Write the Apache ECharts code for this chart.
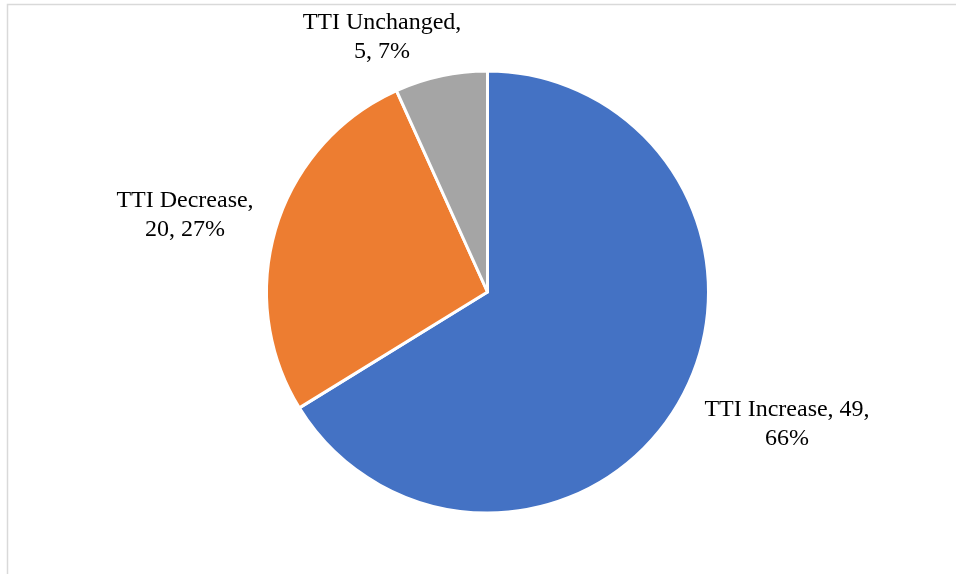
<!DOCTYPE html>
<html>
<head>
<meta charset="utf-8">
<script src="https://cdn.jsdelivr.net/npm/echarts@6/dist/echarts.min.js"></script>
<style>
  html, body { margin: 0; padding: 0; background: #ffffff; }
  #chart { width: 956px; height: 574px; }
</style>
</head>
<body>
<div id="chart"></div>
<script>
// Outcome categories and their counts
const categories = ['TTI Increase', 'TTI Decrease', 'TTI Unchanged'];
const counts = [49, 20, 5];
const sliceColors = ['#4472C4', '#ED7D31', '#A5A5A5'];

// Label anchor points (centre of each two-line label block)
const labelAnchors = [
  [787, 424],
  [185, 215],
  [382, 37]
];
const labelBreaks = [2, 1, 1]; // after how many comma-separated parts the line breaks

const total = counts.reduce((a, b) => a + b, 0);

const chart = echarts.init(document.getElementById('chart'), null, { renderer: 'canvas' });

chart.setOption({
  backgroundColor: '#ffffff',
  animation: false,
  graphic: [{
    type: 'polyline',
    shape: { points: [[7.5, 600], [7.5, 4.5], [960, 4.5]] },
    style: { stroke: '#d9d9d9', lineWidth: 1.5, fill: null },
    silent: true
  }],
  series: [{
    type: 'pie',
    center: [487.5, 292],
    radius: 221,
    startAngle: 90,
    clockwise: true,
    data: categories.map((name, i) => ({
      name,
      value: counts[i],
      itemStyle: { color: sliceColors[i] }
    })),
    itemStyle: { borderColor: '#ffffff', borderWidth: 3 },
    label: {
      show: true,
      position: 'outside',
      fontFamily: 'Liberation Serif, DejaVu Serif, serif',
      fontSize: 24,
      lineHeight: 29,
      color: '#000000',
      align: 'center',
      formatter: p => {
        const pct = Math.round(p.value / total * 100) + '%';
        const parts = [p.name, String(p.value), pct];
        const k = labelBreaks[p.dataIndex];
        return parts.slice(0, k).join(', ') + ',\n' + parts.slice(k).join(', ');
      }
    },
    labelLine: { show: false },
    labelLayout: p => ({
      x: labelAnchors[p.dataIndex][0],
      y: labelAnchors[p.dataIndex][1],
      align: 'center',
      verticalAlign: 'middle'
    }),
    emphasis: { disabled: true }
  }]
});
</script>
</body>
</html>
